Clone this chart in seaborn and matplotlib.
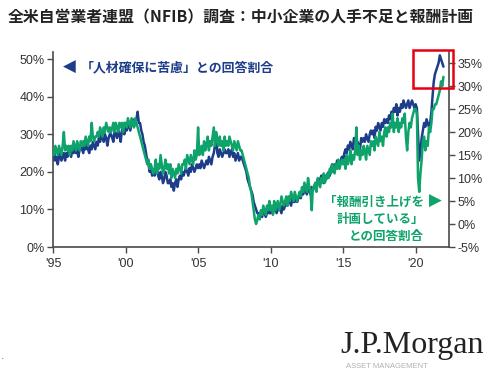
import matplotlib
matplotlib.use("Agg")
import matplotlib.pyplot as plt
import matplotlib.patches as patches
import seaborn as sns
import pandas as pd

# ---- data (monthly, Jan 1995 - Dec 2021) ----
hard_to_fill = [  # % "人材確保に苦慮" (left axis)
    23, 25, 23, 24, 22, 24, 25, 23, 24, 25, 23, 25,   # 1995
    24, 26, 25, 24, 26, 25, 27, 25, 26, 24, 26, 27,   # 1996
    26, 25, 27, 26, 28, 26, 25, 27, 26, 28, 27, 26,   # 1997
    28, 27, 29, 28, 30, 29, 28, 30, 29, 27, 29, 30,   # 1998
    30, 29, 28, 31, 30, 29, 31, 30, 28, 31, 32, 30,   # 1999
    32, 31, 33, 32, 31, 33, 34, 32, 33, 34, 36, 33,   # 2000
    33, 31, 30, 28, 27, 25, 23, 22, 20, 21, 19, 20,   # 2001
    19, 20, 21, 19, 18, 20, 19, 17, 18, 20, 19, 17,   # 2002
    17, 18, 16, 17, 15, 17, 18, 16, 18, 19, 18, 20,   # 2003
    19, 20, 21, 20, 19, 21, 20, 22, 21, 20, 21, 22,   # 2004
    21, 22, 21, 23, 22, 21, 22, 23, 22, 24, 23, 22,   # 2005
    24, 25, 27, 30, 25, 24, 26, 25, 24, 25, 26, 25,   # 2006
    25, 26, 24, 25, 26, 24, 25, 23, 24, 25, 23, 24,   # 2007
    24, 23, 22, 21, 20, 18, 17, 16, 15, 14, 12, 11,   # 2008
    10, 9, 9, 8, 9, 8, 10, 9, 8, 9, 10, 9,            # 2009
    9, 10, 9, 10, 11, 9, 10, 11, 10, 9, 11, 10,       # 2010
    11, 12, 11, 13, 12, 11, 13, 12, 12, 13, 12, 13,   # 2011
    14, 13, 15, 14, 16, 15, 14, 16, 15, 14, 16, 15,   # 2012
    16, 17, 16, 18, 17, 18, 19, 18, 17, 19, 18, 19,   # 2013
    20, 19, 21, 22, 20, 22, 21, 23, 22, 21, 23, 24,   # 2014
    23, 25, 26, 25, 27, 26, 28, 27, 26, 29, 28, 27,   # 2015
    28, 27, 26, 29, 28, 29, 28, 30, 29, 28, 30, 31,   # 2016
    30, 31, 29, 32, 31, 33, 32, 31, 33, 32, 34, 33,   # 2017
    34, 33, 35, 34, 36, 35, 37, 36, 38, 35, 37, 36,   # 2018
    38, 37, 39, 38, 37, 38, 39, 37, 38, 39, 38, 37,   # 2019
    38, 37, 30, 23, 26, 29, 31, 33, 32, 34, 33, 32,   # 2020
    33, 36, 40, 44, 46, 47, 48, 49, 51, 50, 49, 48,   # 2021
]
comp_plans = [  # % "報酬引き上げを計画している" (right axis)
    16, 15, 17, 16, 15, 17, 16, 15, 17, 20, 16, 17,   # 1995
    16, 17, 15, 17, 16, 18, 17, 16, 18, 17, 16, 18,   # 1996
    17, 18, 17, 19, 18, 17, 19, 18, 22, 19, 18, 19,   # 1997
    19, 20, 19, 21, 20, 19, 21, 20, 22, 21, 20, 21,   # 1998
    20, 21, 22, 20, 22, 21, 20, 22, 21, 22, 20, 22,   # 1999
    22, 21, 23, 22, 21, 23, 22, 21, 23, 22, 21, 20,   # 2000
    19, 18, 17, 16, 15, 14, 13, 14, 12, 13, 12, 11,   # 2001
    12, 14, 11, 13, 12, 15, 13, 11, 12, 14, 12, 13,   # 2002
    11, 13, 10, 12, 11, 10, 12, 11, 13, 12, 11, 13,   # 2003
    13, 14, 12, 15, 14, 13, 15, 14, 13, 16, 14, 15,   # 2004
    21, 15, 16, 17, 15, 18, 16, 17, 19, 16, 18, 17,   # 2005
    19, 21, 17, 20, 18, 17, 19, 17, 18, 16, 19, 17,   # 2006
    18, 17, 19, 18, 17, 16, 18, 17, 16, 18, 17, 16,   # 2007
    16, 15, 14, 13, 12, 11, 10, 8, 7, 5, 3, 1,        # 2008
    0, 1, 2, 1, 3, 2, 4, 3, 2, 4, 3, 5,               # 2009
    3, 4, 2, 5, 3, 4, 5, 3, 4, 6, 5, 4,               # 2010
    5, 6, 4, 6, 5, 7, 6, 5, 7, 6, 5, 6,               # 2011
    7, 6, 8, 7, 9, 8, 7, 10, 8, 7, 3, 8,              # 2012
    8, 9, 7, 10, 9, 8, 10, 9, 11, 9, 10, 11,          # 2013
    10, 12, 11, 13, 12, 11, 13, 12, 14, 12, 13, 14,   # 2014
    13, 14, 12, 15, 13, 14, 16, 13, 15, 14, 16, 21,   # 2015
    15, 17, 14, 16, 15, 17, 16, 14, 17, 16, 15, 18,   # 2016
    17, 18, 16, 19, 18, 17, 20, 18, 19, 17, 20, 21,   # 2017
    19, 21, 20, 22, 21, 24, 20, 22, 21, 23, 20, 22,   # 2018
    21, 23, 22, 24, 19, 16, 20, 22, 21, 23, 24, 25,   # 2019
    25, 24, 10, 7, 11, 14, 18, 19, 16, 18, 17, 21,    # 2020
    20, 22, 25, 25, 26, 26, 27, 28, 29, 31, 30, 32,   # 2021
]
x_tick_years = [1995, 2000, 2005, 2010, 2015, 2020]
x_tick_labels = ["'95", "'00", "'05", "'10", "'15", "'20"]
left_ticks = [0, 10, 20, 30, 40, 50]
right_ticks = [-5, 0, 5, 10, 15, 20, 25, 30, 35]

title = "全米自営業者連盟（NFIB）調査：中小企業の人手不足と報酬計画"
blue_label = "「人材確保に苦慮」との回答割合"
green_lines = ["「報酬引き上げを", "計画している」", "との回答割合"]

dates = pd.date_range("1995-01-01", periods=len(hard_to_fill), freq="MS")
df = pd.DataFrame({"date": dates, "hard": hard_to_fill, "comp": comp_plans})

# ---- style ----
sns.set_style("ticks")
plt.rcParams["font.family"] = ["Liberation Sans", "Noto Sans CJK JP", "DejaVu Sans"]
JP = ["Noto Sans CJK JP", "DejaVu Sans"]

BLUE = "#1d3d8a"
GREEN = "#0ea36b"
AXC = "#4a4a4a"
TXT = "#333333"

fig = plt.figure(figsize=(5.04, 3.71), dpi=100)
ax = fig.add_axes([53 / 504, 1 - 247 / 371, (449 - 53) / 504, (247 - 52) / 371])
ax2 = ax.twinx()

sns.lineplot(data=df, x="date", y="hard", ax=ax, color=BLUE, linewidth=1.8)
sns.lineplot(data=df, x="date", y="comp", ax=ax2, color=GREEN, linewidth=1.8)

ax.set_xlim(pd.Timestamp("1995-01-01"), pd.Timestamp("2022-04-20"))
ax.set_ylim(0, 51.9)
ax2.set_ylim(-5, 37.4)

ax.set_xticks([pd.Timestamp(f"{y}-01-01") for y in x_tick_years])
ax.set_xticklabels(x_tick_labels)
ax.set_yticks(left_ticks)
ax.set_yticklabels([f"{v}%" for v in left_ticks])
ax2.set_yticks(right_ticks)
ax2.set_yticklabels([f"{v}%" for v in right_ticks])

for a in (ax, ax2):
    a.set_xlabel("")
    a.set_ylabel("")
    a.tick_params(length=4, width=1, color=AXC, labelsize=9, labelcolor=TXT, pad=2)
    for s in a.spines.values():
        s.set_color(AXC)
        s.set_linewidth(1.2)
ax.spines["top"].set_visible(False)
ax.spines["right"].set_visible(False)
ax2.spines["top"].set_visible(False)
ax2.spines["left"].set_visible(False)
ax2.spines["bottom"].set_visible(False)
ax.tick_params(axis="x", pad=4)

# ---- annotations ----
def fx(px):
    return px / 504

def fy(py):
    return 1 - py / 371

fig.text(fx(8), fy(17), title, fontsize=11.4, fontweight="bold", family=JP,
         color="#222222", va="center", ha="left")

fig.text(fx(69), fy(67), "◀", fontsize=12, color=BLUE, family=["DejaVu Sans"],
         va="center", ha="center")
fig.text(fx(81), fy(67), blue_label, fontsize=9.3, fontweight="bold", family=JP,
         color=BLUE, va="center", ha="left")

for line, yy in zip(green_lines, [202, 219, 236]):
    fig.text(fx(424), fy(yy), line, fontsize=9, fontweight="bold", family=JP,
             color=GREEN, va="center", ha="right")
fig.text(fx(435), fy(201), "▶", fontsize=12, color=GREEN, family=["DejaVu Sans"],
         va="center", ha="center")

# red highlight box
fig.patches.append(patches.Rectangle((fx(413), fy(88)), 40 / 504, 38 / 371,
                                     transform=fig.transFigure, fill=False,
                                     edgecolor="#e60012", linewidth=1.8))

# logo
fig.text(fx(340), fy(353), "J.P.Morgan", fontsize=23, family=["Liberation Serif"],
         color="#222222", va="baseline", ha="left")
fig.text(fx(346), fy(370.5), "ASSET MANAGEMENT", fontsize=5.5, family=["Liberation Sans"],
         color="#b0b0b0", va="bottom", ha="left")
fig.text(fx(1), fy(356), ".", fontsize=9, color="#777777", va="center", ha="left")

fig.savefig("out.png", dpi=100)
